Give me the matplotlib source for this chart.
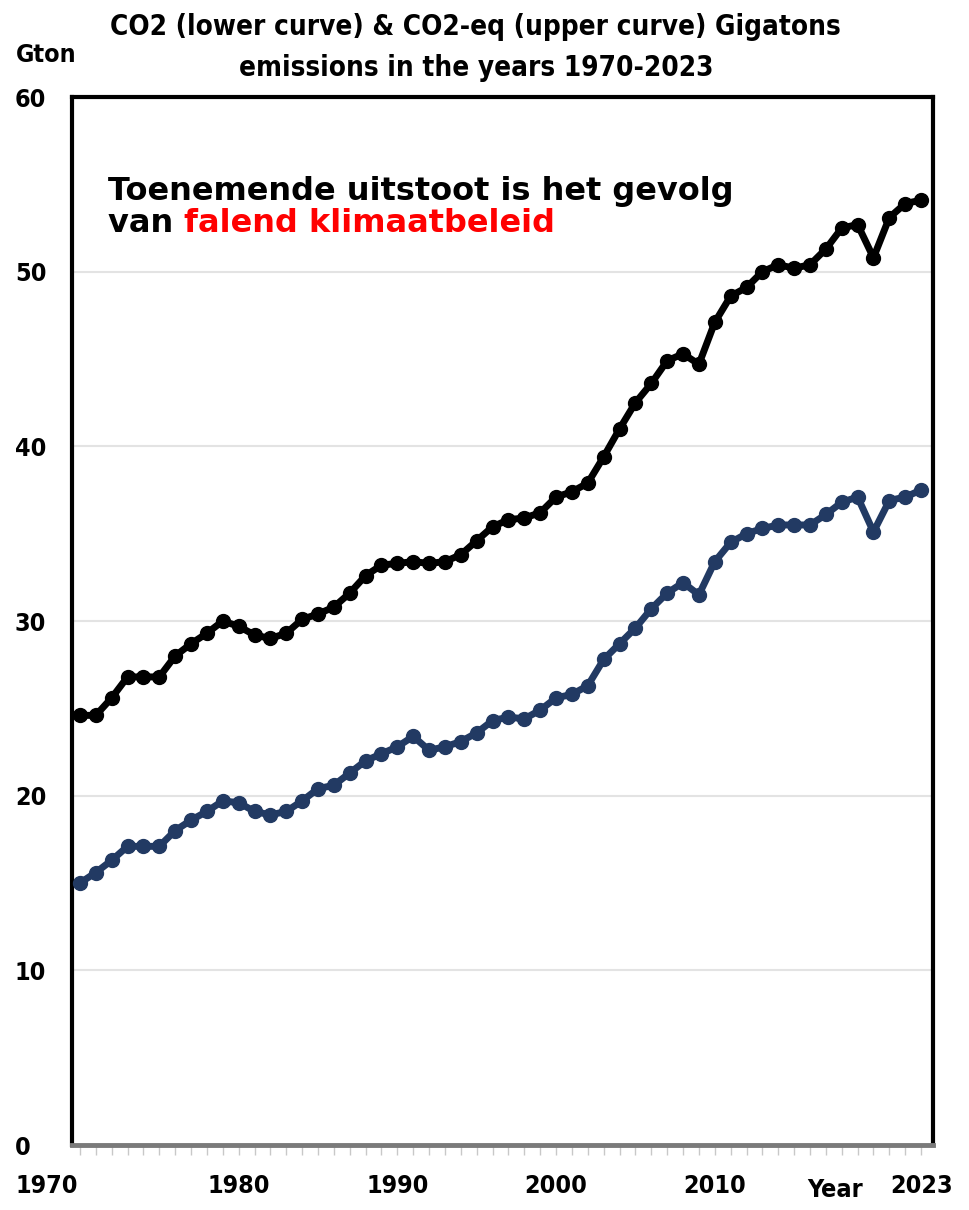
import matplotlib.pyplot as plt
import matplotlib.transforms as mtransforms

# Data (Gigaton per year)
years = list(range(1970, 2024))
co2_eq = [24.6, 24.6, 25.6, 26.8, 26.8, 26.8, 28.0, 28.7, 29.3, 30.0,
          29.7, 29.2, 29.0, 29.3, 30.1, 30.4, 30.8, 31.6, 32.6, 33.2,
          33.3, 33.4, 33.3, 33.4, 33.8, 34.6, 35.4, 35.8, 35.9, 36.2,
          37.1, 37.4, 37.9, 39.4, 41.0, 42.5, 43.6, 44.9, 45.3, 44.7,
          47.1, 48.6, 49.1, 50.0, 50.4, 50.2, 50.4, 51.3, 52.5, 52.7,
          50.8, 53.1, 53.9, 54.1]
co2 = [15.0, 15.6, 16.3, 17.1, 17.1, 17.1, 18.0, 18.6, 19.1, 19.7,
       19.6, 19.1, 18.9, 19.1, 19.7, 20.4, 20.6, 21.3, 22.0, 22.4,
       22.8, 23.4, 22.6, 22.8, 23.1, 23.6, 24.3, 24.5, 24.4, 24.9,
       25.6, 25.8, 26.3, 27.8, 28.7, 29.6, 30.7, 31.6, 32.2, 31.5,
       33.4, 34.5, 35.0, 35.3, 35.5, 35.5, 35.5, 36.1, 36.8, 37.1,
       35.1, 36.9, 37.1, 37.5]
year_ticks = [1970, 1980, 1990, 2000, 2010, 2023]
y_ticks = [0, 10, 20, 30, 40, 50, 60]

# condensed bold look (Calibri-like) for titles and ticks
cond = dict(family='DejaVu Sans', fontstretch='condensed', fontweight='bold')

fig = plt.figure(figsize=(9.69, 12.1), dpi=100)
ax = fig.add_axes([0.0743, 0.0537, 0.8887, 0.8661])

ax.plot(years, co2_eq, '-o', color='black', lw=5, ms=10, zorder=3)
ax.plot(years, co2, '-o', color='#223a63', lw=5, ms=10, zorder=3)

ax.set_ylim(0, 60)
ax.set_xlim(1969.5, 2023.76)
ax.set_yticks(y_ticks)
ax.set_xticks(year_ticks)
ax.set_xticks(years, minor=True)
ax.grid(axis='y', color='#e3e3e3', lw=1.5, zorder=0)

for s in ['left', 'top', 'right']:
    ax.spines[s].set_linewidth(3)
    ax.spines[s].set_color('black')
ax.spines['bottom'].set_linewidth(3.5)
ax.spines['bottom'].set_color('#7a7a7a')

ax.tick_params(axis='y', length=0, pad=0)
ax.tick_params(axis='x', which='both', length=7, width=1, color='#c8c8c8', pad=14)
for lab in ax.get_yticklabels() + ax.get_xticklabels():
    lab.set_fontfamily('DejaVu Sans')
    lab.set_fontstretch('condensed')
    lab.set_fontweight('bold')
    lab.set_fontsize(18)
for lab in ax.get_yticklabels():
    lab.set_horizontalalignment('left')

# shift 1970 label left like the original
first = ax.get_xticklabels()[0]
first.set_transform(first.get_transform() + mtransforms.ScaledTranslation(-0.33, 0, fig.dpi_scale_trans))
# y labels left-aligned near the figure edge
offset = mtransforms.ScaledTranslation(-0.57, 0, fig.dpi_scale_trans)
for lab in ax.get_yticklabels():
    lab.set_transform(lab.get_transform() + offset)

fig.text(0.491, 1 - 27 / 1210, 'CO2 (lower curve) & CO2-eq (upper curve) Gigatons',
         ha='center', va='center', fontsize=20, **cond)
fig.text(0.491, 1 - 68 / 1210, 'emissions in the years 1970-2023',
         ha='center', va='center', fontsize=20, **cond)
fig.text(0.016, 1 - 55 / 1210, 'Gton', ha='left', va='center', fontsize=18, **cond)
fig.text(835 / 969, 1 - 1190 / 1210, 'Year', ha='center', va='center', fontsize=18, **cond)

t1 = ax.text(0.0418, 0.902, 'Toenemende uitstoot is het gevolg', transform=ax.transAxes,
             ha='left', va='baseline', fontsize=23, fontweight='bold', color='black')
t2 = ax.text(0.0418, 0.871, 'van ', transform=ax.transAxes,
             ha='left', va='baseline', fontsize=23, fontweight='bold', color='black')
ax.annotate('falend klimaatbeleid', xy=(1, 0), xycoords=t2, ha='left', va='bottom',
            fontsize=23, fontweight='bold', color='#ff0000')

fig.savefig('out.png', dpi=100)
